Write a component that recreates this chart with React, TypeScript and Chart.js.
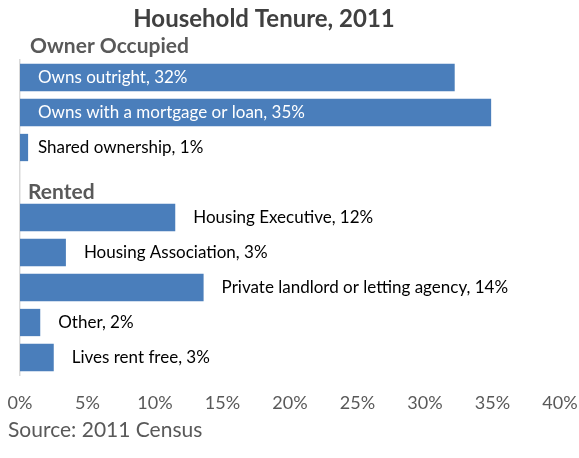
import { useEffect, useRef } from "react";
import { Chart, registerables } from "chart.js";

Chart.register(...registerables);

const title = "Household Tenure, 2011";
const sourceNote = "Source: 2011 Census";
const groupHeaders = ["Owner Occupied", "Rented"];
const categories = [
  "Owns outright",
  "Owns with a mortgage or loan",
  "Shared ownership",
  "",
  "Housing Executive",
  "Housing Association",
  "Private landlord or letting agency",
  "Other",
  "Lives rent free",
];
const values: (number | null)[] = [32.2, 34.9, 0.6, null, 11.5, 3.4, 13.6, 1.5, 2.5];
const pctLabels = ["32%", "35%", "1%", "", "12%", "3%", "14%", "2%", "3%"];
const labelAtBase = [true, true, true, false, false, false, false, false, false];
const labelWhite = [true, true, false, false, false, false, false, false, false];

const FONT = "Lato, 'Open Sans', sans-serif";

const textPlugin = {
  id: "textPlugin",
  afterDraw(chart: any) {
    const { ctx, chartArea } = chart;
    ctx.save();
    // title
    ctx.fillStyle = "#404040";
    ctx.font = `bold 24px ${FONT}`;
    ctx.textAlign = "center";
    ctx.textBaseline = "alphabetic";
    ctx.fillText(title, 264, 27);
    // group headers
    ctx.textAlign = "left";
    ctx.fillStyle = "#595959";
    ctx.font = `bold 21px ${FONT}`;
    ctx.fillText(groupHeaders[0], 30, 53);
    const yScale = chart.scales.y;
    ctx.fillText(groupHeaders[1], 28, yScale.getPixelForValue(3) + 16);
    // bar labels
    const meta = chart.getDatasetMeta(0);
    ctx.font = `17px ${FONT}`;
    ctx.textBaseline = "middle";
    meta.data.forEach((bar: any, i: number) => {
      if (values[i] == null) return;
      const x = labelAtBase[i] ? chartArea.left + 18 : bar.x + 18;
      ctx.fillStyle = labelWhite[i] ? "#ffffff" : "#000000";
      ctx.fillText(`${categories[i]}, ${pctLabels[i]}`, x, bar.y);
    });
    // source
    ctx.textBaseline = "alphabetic";
    ctx.fillStyle = "#595959";
    ctx.font = `21px ${FONT}`;
    ctx.fillText(sourceNote, 8, 437);
    ctx.restore();
  },
};

export default function App() {
  const ref = useRef<HTMLCanvasElement>(null);
  useEffect(() => {
    if (!ref.current) return;
    const chart = new Chart(ref.current, {
      type: "bar",
      data: {
        labels: categories,
        datasets: [
          {
            data: values,
            backgroundColor: "#4a7ebb",
            borderWidth: 0,
            categoryPercentage: 1,
            barPercentage: 0.78,
          },
        ],
      },
      options: {
        indexAxis: "y",
        responsive: false,
        animation: false,
        layout: { padding: { left: 20, right: 19, top: 60, bottom: 43 } },
        plugins: { legend: { display: false }, tooltip: { enabled: false }, title: { display: false } },
        scales: {
          x: {
            min: 0,
            max: 40,
            grid: { display: false, drawTicks: false },
            border: { display: false },
            ticks: {
              stepSize: 5,
              padding: 17,
              color: "#595959",
              font: { family: FONT, size: 18 },
              callback: (v: any) => `${v}%`,
            },
            afterFit: (s: any) => {
              s.height = 40;
              s.paddingLeft = 0;
              s.paddingRight = 0;
            },
          },
          y: {
            grid: { display: false, drawTicks: false },
            border: { display: true, color: "#d9d9d9", width: 1.5 },
            ticks: { display: false },
            afterFit: (s: any) => {
              s.width = 0;
              s.paddingTop = 0;
              s.paddingBottom = 0;
            },
          },
        },
      },
      plugins: [textPlugin],
    });
    return () => chart.destroy();
  }, []);
  return (
    <div style={{ position: "absolute", left: 0, top: 0, width: 579, height: 458, background: "#fff" }}>
      <canvas ref={ref} width={579} height={458} />
    </div>
  );
}
